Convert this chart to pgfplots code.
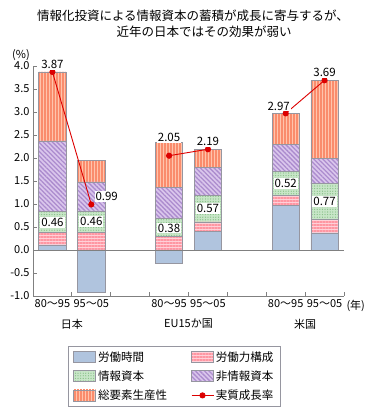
\documentclass[border=0pt]{standalone}
\usepackage{fontspec}
\setmainfont{Noto Sans CJK JP}
\usepackage{pgfplots}
\usepackage{pgfplotstable}
\pgfplotsset{compat=1.18}
\usetikzlibrary{patterns.meta}
\definecolor{cblue}{RGB}{176,196,222}
\definecolor{cpinkbg}{RGB}{255,208,216}
\definecolor{cpinkln}{RGB}{255,150,162}
\definecolor{cgreenbg}{RGB}{200,230,200}
\definecolor{cgreendot}{RGB}{135,192,135}
\definecolor{cpurbg}{RGB}{218,198,236}
\definecolor{cpurln}{RGB}{172,140,206}
\definecolor{corbg}{RGB}{255,196,172}
\definecolor{corln}{RGB}{250,140,108}
\definecolor{cred}{RGB}{220,0,0}
\definecolor{cedge}{RGB}{150,150,160}
\definecolor{caxis}{RGB}{128,128,128}
\tikzset{
  sblue/.style={fill=cblue, draw=cedge, line width=0.7bp},
  spink/.style={fill=cpinkbg, draw=cedge, line width=0.7bp, postaction={pattern={Lines[angle=0,distance=3bp,line width=1.3bp]}, pattern color=cpinkln}},
  sgreen/.style={fill=cgreenbg, draw=cedge, line width=0.7bp, postaction={pattern={Dots[distance=2.6bp,radius=0.65bp]}, pattern color=cgreendot}},
  spurple/.style={fill=cpurbg, draw=cedge, line width=0.7bp, postaction={pattern={Lines[angle=-45,distance=3.2bp,line width=1.3bp]}, pattern color=cpurln}},
  sorange/.style={fill=corbg, draw=cedge, line width=0.7bp, postaction={pattern={Lines[angle=90,distance=3bp,line width=1.3bp]}, pattern color=corln}},
}
\pgfplotsset{
  boxleg/.style={legend image code/.code={\draw[##1] (0bp,-5.5bp) rectangle (22bp,5.5bp);}},
  lineleg/.style={legend image code/.code={\draw[mark repeat=2,mark phase=2,##1] plot coordinates {(0bp,0bp) (11bp,0bp) (22bp,0bp)};}},
  common/.style={
    at={(33bp,124bp)}, anchor=south west, scale only axis,
    width=311bp, height=230bp,
    xmin=0, xmax=8, ymin=-1, ymax=4,
  },
}
\pgfplotstableread{
x blue pink green purple orange
0.5 0.11 0.27 0.46 1.53 1.50
1.5 -0.93 0.39 0.46 0.63 0.46
3.5 -0.30 0.30 0.38 0.68 0.97
4.5 0.41 0.20 0.57 0.62 0.39
6.5 0.96 0.23 0.52 0.59 0.67
7.5 0.37 0.30 0.77 0.56 1.69
}\bars
\begin{document}
\begin{tikzpicture}
\useasboundingbox (0,0) rectangle (374bp,420bp);
\node[font=\fontsize{12.5bp}{14bp}\selectfont] at (193bp,404bp) {情報化投資による情報資本の蓄積が成長に寄与するが、};
\node[font=\fontsize{12.5bp}{14bp}\selectfont] at (204bp,388bp) {近年の日本ではその効果が弱い};
\node[font=\fontsize{11bp}{13bp}\selectfont] at (21bp,365bp) {(\%)};
\begin{axis}[common,
  ybar stacked, bar width=0.7,
  axis lines*=left,
  axis line style={caxis, line width=0.8bp},
  tick align=inside, major tick length=4bp,
  tick style={caxis, line width=0.8bp},
  ytick={-1,-0.5,...,4},
  yticklabel style={font=\fontsize{11bp}{13bp}\selectfont, /pgf/number format/.cd, fixed, fixed zerofill, precision=1, assume math mode=true},
  xtick={0,...,8}, xticklabels={},
  extra x ticks={0.5,1.5,3.5,4.5,6.5,7.5},
  extra x tick labels={80～95,95～05,80～95,95～05,80～95,95～05},
  extra x tick style={major tick length=0pt, tick label style={font=\fontsize{11bp}{13bp}\selectfont}},
  clip=false,
]
\addplot[sblue] table[x=x,y=blue] {\bars};
\addplot[spink] table[x=x,y=pink] {\bars};
\addplot[sgreen] table[x=x,y=green] {\bars};
\addplot[spurple] table[x=x,y=purple] {\bars};
\addplot[sorange] table[x=x,y=orange] {\bars};
\end{axis}
\begin{axis}[common, hide axis, clip=false,
  legend columns=2,
  legend cell align=left,
  legend style={at={(0.1125,-0.218)}, anchor=north west, draw=cedge, line width=0.8bp,
    font=\fontsize{11.5bp}{13bp}\selectfont, inner xsep=5bp, inner ysep=3bp, row sep=4bp,
    /tikz/every even column/.append style={column sep=22bp}},
]
\draw[caxis, line width=0.8bp] (axis cs:0,0) -- (axis cs:8,0);
\addlegendimage{boxleg, sblue}\addlegendentry{労働時間}
\addlegendimage{boxleg, spink}\addlegendentry{労働力構成}
\addlegendimage{boxleg, sgreen}\addlegendentry{情報資本}
\addlegendimage{boxleg, spurple}\addlegendentry{非情報資本}
\addlegendimage{boxleg, sorange}\addlegendentry{総要素生産性}
\addplot[lineleg, cred, line width=0.9bp, mark=*, mark size=2.6bp, mark options={fill=cred, draw=cred}] coordinates {(0.5,3.87) (1.5,0.99)};
\addlegendentry{実質成長率}
\addplot[cred, line width=0.9bp, mark=*, mark size=2.6bp, mark options={fill=cred, draw=cred}, forget plot] coordinates {(3.5,2.05) (4.5,2.19)};
\addplot[cred, line width=0.9bp, mark=*, mark size=2.6bp, mark options={fill=cred, draw=cred}, forget plot] coordinates {(6.5,2.97) (7.5,3.69)};
% green value labels
\addplot[draw=none, mark=none, forget plot, nodes near coords, point meta=explicit symbolic,
  nodes near coords style={anchor=center, fill=white, inner sep=1bp, font=\fontsize{11.5bp}{13bp}\selectfont}]
  table[meta=l] {
x y l
0.5 0.60 0.46
1.5 0.62 0.46
3.5 0.48 0.38
4.5 0.90 0.57
6.5 1.45 0.52
7.5 1.05 0.77
};
% growth labels
\addplot[draw=none, mark=none, forget plot, nodes near coords, point meta=explicit symbolic,
  nodes near coords style={anchor=south, fill=white, inner sep=1bp, yshift=2bp, font=\fontsize{11.5bp}{13bp}\selectfont}]
  table[meta=l] {
x y l
0.5 3.87 3.87
4.5 2.19 2.19
7.5 3.69 3.69
};
\addplot[draw=none, mark=none, forget plot, nodes near coords, point meta=explicit symbolic,
  nodes near coords style={anchor=south, fill=white, inner sep=1bp, yshift=13bp, font=\fontsize{11.5bp}{13bp}\selectfont}]
  table[meta=l] {
x y l
3.5 2.05 2.05
};
\addplot[draw=none, mark=none, forget plot, nodes near coords, point meta=explicit symbolic,
  nodes near coords style={anchor=south, fill=white, inner sep=1bp, yshift=2bp, xshift=-7bp, font=\fontsize{11.5bp}{13bp}\selectfont}]
  table[meta=l] {
x y l
6.5 2.97 2.97
};
\addplot[draw=none, mark=none, forget plot, nodes near coords, point meta=explicit symbolic,
  nodes near coords style={anchor=west, fill=white, inner sep=1bp, xshift=3bp, yshift=8bp, font=\fontsize{11.5bp}{13bp}\selectfont}]
  table[meta=l] {
x y l
1.5 0.99 0.99
};
\node[font=\fontsize{11bp}{13bp}\selectfont, anchor=west] at (rel axis cs:1,0) [yshift=-10bp, xshift=-1bp] {(年)};
\node[font=\fontsize{11bp}{13bp}\selectfont] at (axis cs:1,-1) [yshift=-28bp] {日本};
\node[font=\fontsize{11bp}{13bp}\selectfont] at (axis cs:4,-1) [yshift=-28bp] {EU15か国};
\node[font=\fontsize{11bp}{13bp}\selectfont] at (axis cs:7,-1) [yshift=-28bp] {米国};
\end{axis}
\end{tikzpicture}
\end{document}
